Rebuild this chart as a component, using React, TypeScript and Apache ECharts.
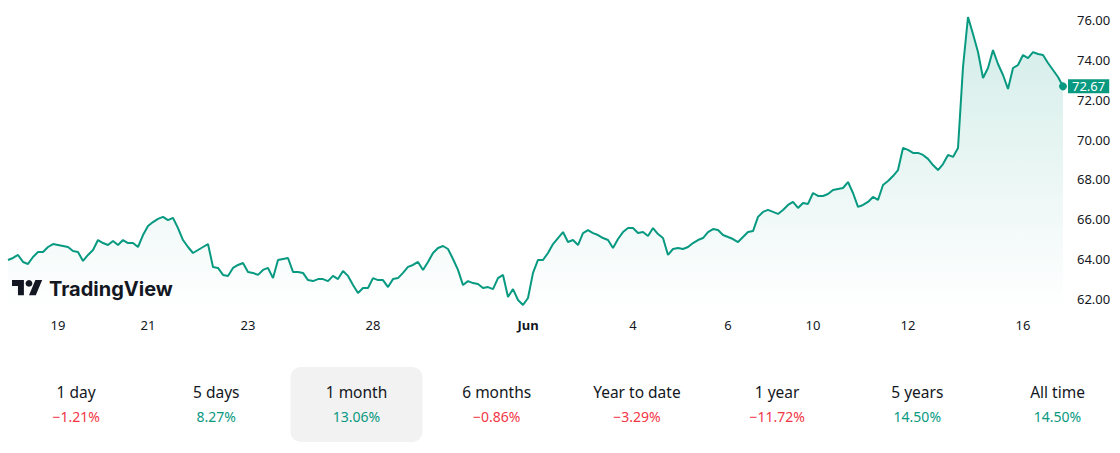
import React, { useEffect, useRef } from "react";
import * as echarts from "echarts";

// Price trace (one sample per ~5px of the reference timeline)
const priceValues: number[] = [
  63.96, 64.06, 64.21, 63.86, 63.76, 64.11, 64.36, 64.36, 64.61, 64.76,
  64.71, 64.66, 64.61, 64.41, 64.36, 63.91, 64.21, 64.46, 64.96, 64.81,
  64.71, 64.91, 64.71, 64.96, 64.81, 64.81, 64.61, 65.21, 65.66, 65.86,
  66.02, 66.12, 65.96, 66.07, 65.56, 64.96, 64.61, 64.31, 64.46, 64.61,
  64.76, 63.61, 63.56, 63.21, 63.16, 63.56, 63.71, 63.81, 63.36, 63.31,
  63.21, 63.46, 63.56, 63.05, 63.96, 64.01, 64.06, 63.36, 63.36, 63.31,
  62.95, 62.9, 63.0, 63.0, 62.9, 63.16, 63.0, 63.41, 63.16, 62.7,
  62.3, 62.55, 62.55, 63.05, 62.95, 62.95, 62.6, 63.0, 63.05, 63.31,
  63.61, 63.71, 63.86, 63.46, 63.86, 64.31, 64.56, 64.66, 64.51, 64.01,
  63.46, 62.7, 62.9, 62.8, 62.75, 62.55, 62.6, 62.5, 63.05, 63.21,
  62.1, 62.5, 61.95, 61.7, 62.05, 63.31, 63.96, 63.96, 64.31, 64.76,
  65.06, 65.36, 64.86, 64.96, 64.71, 65.31, 65.46, 65.31, 65.21, 65.06,
  64.96, 64.56, 65.01, 65.36, 65.56, 65.56, 65.31, 65.36, 65.16, 65.56,
  65.26, 65.06, 64.21, 64.51, 64.56, 64.51, 64.61, 64.81, 64.96, 65.06,
  65.36, 65.51, 65.46, 65.21, 65.11, 65.01, 64.86, 65.11, 65.36, 65.41,
  66.12, 66.37, 66.47, 66.37, 66.27, 66.47, 66.72, 66.87, 66.57, 66.82,
  66.77, 67.32, 67.17, 67.17, 67.27, 67.47, 67.52, 67.57, 67.87, 67.32,
  66.62, 66.72, 66.87, 67.12, 66.97, 67.72, 67.92, 68.17, 68.47, 69.58,
  69.48, 69.33, 69.33, 69.23, 69.03, 68.72, 68.47, 68.77, 69.23, 69.13,
  69.58, 73.64, 76.15, 75.3, 74.39, 73.09, 73.59, 74.49, 73.79, 73.24,
  72.54, 73.59, 73.74, 74.24, 74.09, 74.39, 74.29, 74.24, 73.84, 73.49,
  73.14, 72.67,
];

// X tick labels and the sample index at which each one sits
const tickIndices: number[] = [10, 28, 48, 73, 104, 125, 144, 161, 180, 203];
const tickLabels: string[] = ["19", "21", "23", "28", "Jun", "4", "6", "10", "12", "16"];

// Y tick values
const yTickValues: number[] = [62, 64, 66, 68, 70, 72, 74, 76];

// Period performance strip
const periodLabels: string[] = ["1 day", "5 days", "1 month", "6 months", "Year to date", "1 year", "5 years", "All time"];
const periodChanges: number[] = [-1.21, 8.27, 13.06, -0.86, -3.29, -11.72, 14.5, 14.5];
const selectedPeriod = 2;

const GREEN = "#089981";
const RED = "#f23645";
const INK = "#131722";
const FONT = "'Noto Sans', 'Open Sans', sans-serif";

const categories: string[] = priceValues.map((_, i) => {
  const k = tickIndices.indexOf(i);
  return k >= 0 ? tickLabels[k] : "";
});

function fmtChange(v: number): string {
  const s = Math.abs(v).toFixed(2) + "%";
  return v < 0 ? "\u2212" + s : s;
}

let shapeRegistered = false;
function registerLogo() {
  if (shapeRegistered) return;
  echarts.graphic.registerShape(
    "tvLogo",
    (echarts.graphic as any).extendPath("M14 22H7V11H0V4h14v18zM28 22h-8l7.5-18h8L28 22z", {})
  );
  shapeRegistered = true;
}

export default function App() {
  const ref = useRef<HTMLDivElement>(null);

  useEffect(() => {
    if (!ref.current) return;
    let logoOk = true;
    try {
      registerLogo();
    } catch (e) {
      logoOk = false;
    }
    const chart = echarts.init(ref.current, null, { renderer: "svg" });

    const colW = 140.2;
    const colStart = 6;
    const periodGraphics: any[] = [];
    const c = colStart + colW * (selectedPeriod + 0.5);
    periodGraphics.push({
      type: "rect",
      shape: { x: c - 66, y: 367, width: 132, height: 75, r: 10 },
      style: { fill: "#f2f2f2" },
      z: 1,
    });
    periodLabels.forEach((label, i) => {
      const cx = colStart + colW * (i + 0.5);
      periodGraphics.push({
        type: "text",
        x: cx,
        y: 392,
        z: 2,
        style: {
          text: label,
          fill: INK,
          fontSize: 15.5,
          fontFamily: FONT,
          align: "center",
          verticalAlign: "middle",
        },
      });
      const v = periodChanges[i];
      periodGraphics.push({
        type: "text",
        x: cx,
        y: 416,
        z: 2,
        style: {
          text: fmtChange(v),
          fill: v < 0 ? RED : GREEN,
          fontSize: 14,
          fontFamily: FONT,
          align: "center",
          verticalAlign: "middle",
        },
      });
    });

    const logoGraphics: any[] = [];
    if (logoOk) {
      logoGraphics.push({
        type: "tvLogo",
        x: 12,
        y: 276.6,
        scaleX: 0.85,
        scaleY: 0.85,
        z: 100,
        style: { fill: INK },
      });
    }
    logoGraphics.push({
      type: "circle",
      shape: { cx: 12 + 20 * 0.85, cy: 276.6 + 8 * 0.85, r: 4 * 0.85 },
      z: 100,
      style: { fill: INK },
    });
    logoGraphics.push({
      type: "text",
      x: 49,
      y: 289,
      z: 100,
      style: {
        text: "TradingView",
        fill: INK,
        fontSize: 20,
        fontWeight: 700,
        fontFamily: "Inter, 'Noto Sans', sans-serif",
        align: "left",
        verticalAlign: "middle",
      },
    });

    const last = priceValues.length - 1;

    chart.setOption({
      animation: false,
      backgroundColor: "#ffffff",
      grid: { left: 8, top: 10, width: 1055, height: 299, containLabel: false, outerBoundsMode: "none" } as any,
      xAxis: {
        type: "category",
        data: categories,
        boundaryGap: false,
        axisLine: { show: false },
        axisTick: { show: false },
        splitLine: { show: false },
        axisLabel: {
          interval: (index: number) => tickIndices.indexOf(index) >= 0,
          color: INK,
          fontSize: 13,
          fontFamily: FONT,
          margin: 9,
          formatter: (v: string) => (v === "Jun" ? "{b|Jun}" : v),
          rich: { b: { fontWeight: "bold", color: INK, fontSize: 13, fontFamily: FONT } },
        },
      },
      yAxis: {
        type: "value",
        position: "right",
        min: 61.5,
        max: 76.5,
        axisLine: { show: false },
        axisTick: { show: false },
        splitLine: { show: false },
        axisLabel: {
          customValues: yTickValues,
          color: INK,
          fontSize: 13,
          fontFamily: FONT,
          margin: 14,
          formatter: (v: number) => v.toFixed(2),
        },
      } as any,
      series: [
        {
          type: "line",
          data: priceValues,
          symbol: "none",
          smooth: false,
          lineStyle: { color: GREEN, width: 2 },
          itemStyle: { color: GREEN },
          areaStyle: {
            origin: "start",
            color: new echarts.graphic.LinearGradient(0, 0, 0, 1, [
              { offset: 0, color: "rgba(8,153,129,0.26)" },
              { offset: 1, color: "rgba(8,153,129,0.0)" },
            ]),
          },
          markPoint: {
            symbol: "circle",
            symbolSize: 8,
            label: { show: false },
            itemStyle: { color: GREEN },
            data: [{ coord: [last, priceValues[last]] }],
          },
          markLine: {
            symbol: "none",
            silent: true,
            lineStyle: { color: "rgba(0,0,0,0)", width: 0, type: "solid" },
            label: {
              show: true,
              position: "end",
              distance: 5,
              formatter: () => priceValues[last].toFixed(2),
              color: "#ffffff",
              backgroundColor: GREEN,
              padding: [1, 4, 1, 4],
              lineHeight: 12,
              fontSize: 13,
              fontFamily: FONT,
            },
            data: [{ yAxis: priceValues[last] }],
          },
        },
      ],
      graphic: [...periodGraphics, ...logoGraphics],
    });

    return () => chart.dispose();
  }, []);

  return (
    <div
      ref={ref}
      style={{ position: "fixed", left: 0, top: 0, width: 1120, height: 453, background: "#fff" }}
    />
  );
}
